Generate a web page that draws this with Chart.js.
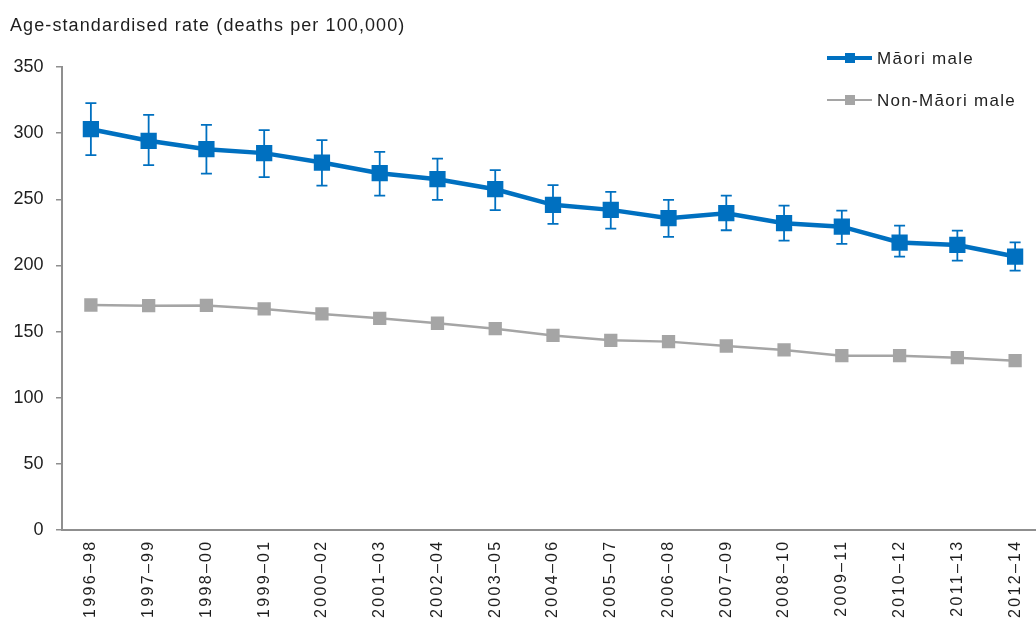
<!DOCTYPE html>
<html>
<head>
<meta charset="utf-8">
<script src="https://cdn.jsdelivr.net/npm/chart.js@4.4.1/dist/chart.umd.min.js"></script>
<style>
  html, body { margin: 0; padding: 0; background: #ffffff; overflow: hidden; }
  #wrap { width: 1036px; height: 621px; overflow: hidden; position: relative; }
  canvas { display: block; }
</style>
</head>
<body>
<div id="wrap"><canvas id="chart" width="1060" height="621"></canvas></div>
<script>
// Three-year periods
const periods = ['1996–98', '1997–99', '1998–00', '1999–01', '2000–02', '2001–03', '2002–04', '2003–05',
  '2004–06', '2005–07', '2006–08', '2007–09', '2008–10', '2009–11', '2010–12', '2011–13', '2012–14'];

// Age-standardised death rates per 100,000
const maoriMale = [303.0, 294.2, 287.9, 284.9, 277.8, 269.7, 265.2, 257.6, 245.8, 242.0, 235.7, 239.5, 231.9, 229.3, 217.3, 215.5, 206.7];
const maoriLower = [283.4, 275.8, 269.4, 266.7, 260.4, 252.8, 249.5, 241.8, 231.4, 227.8, 221.6, 226.6, 218.8, 216.3, 206.7, 203.6, 196.1];
const maoriUpper = [322.7, 313.8, 306.3, 302.3, 294.7, 285.9, 280.8, 272.0, 260.7, 255.6, 249.5, 252.8, 245.2, 241.5, 230.1, 226.3, 217.5];
const nonMaoriMale = [170.1, 169.6, 169.8, 167.1, 163.3, 160.0, 156.3, 152.2, 147.1, 143.4, 142.4, 139.1, 136.1, 131.8, 131.8, 130.3, 128.0];

// Y axis ticks
const yTicks = [0, 50, 100, 150, 200, 250, 300, 350];

const yAxisTitle = 'Age-standardised rate (deaths per 100,000)';
const seriesNames = ['Māori male', 'Non-Māori male'];

const BLUE = '#0070C0';
const GREY = '#A5A5A5';
const AXIS = '#8f8f8f';
const TEXT = '#1e1e1e';
const FONT = '"Liberation Sans", Arial, sans-serif';

// confidence interval whiskers for the Māori series
const errorBars = {
  id: 'errorBars',
  beforeDatasetsDraw(chart) {
    const ctx = chart.ctx;
    const x = chart.scales.x, y = chart.scales.y;
    ctx.save();
    ctx.strokeStyle = BLUE;
    ctx.lineWidth = 1.8;
    const cap = 5.5;
    maoriMale.forEach((v, i) => {
      const px = x.getPixelForValue(i);
      const lo = y.getPixelForValue(maoriLower[i]);
      const hi = y.getPixelForValue(maoriUpper[i]);
      ctx.beginPath();
      ctx.moveTo(px, lo); ctx.lineTo(px, hi);
      ctx.moveTo(px - cap, lo); ctx.lineTo(px + cap, lo);
      ctx.moveTo(px - cap, hi); ctx.lineTo(px + cap, hi);
      ctx.stroke();
    });
    ctx.restore();
  }
};

// axis title at top left and legend at top right
const annotations = {
  id: 'annotations',
  afterDraw(chart) {
    const ctx = chart.ctx;
    ctx.save();
    ctx.fillStyle = TEXT;
    ctx.textAlign = 'left';
    ctx.textBaseline = 'alphabetic';
    ctx.letterSpacing = '1.1px';
    ctx.font = '18px ' + FONT;
    ctx.fillText(yAxisTitle, 10, 31);

    const items = [
      { label: seriesNames[0], color: BLUE, width: 4, y: 58 },
      { label: seriesNames[1], color: GREY, width: 2.2, y: 100 }
    ];
    ctx.letterSpacing = '1.3px';
    ctx.font = '17px ' + FONT;
    items.forEach(it => {
      ctx.strokeStyle = it.color;
      ctx.lineWidth = it.width;
      ctx.beginPath();
      ctx.moveTo(827, it.y); ctx.lineTo(872, it.y);
      ctx.stroke();
      ctx.fillStyle = it.color;
      ctx.fillRect(845, it.y - 5, 10, 10);
      ctx.fillStyle = TEXT;
      ctx.fillText(it.label, 877, it.y + 6);
    });
    ctx.restore();
  }
};

new Chart(document.getElementById('chart'), {
  type: 'line',
  data: {
    labels: periods,
    datasets: [
      {
        label: seriesNames[0],
        data: maoriMale,
        borderColor: BLUE,
        backgroundColor: BLUE,
        borderWidth: 4.5,
        pointStyle: 'rect',
        pointRadius: 11.5,
        pointBorderWidth: 0,
        pointBackgroundColor: BLUE,
        tension: 0,
        order: 0
      },
      {
        label: seriesNames[1],
        data: nonMaoriMale,
        borderColor: GREY,
        backgroundColor: GREY,
        borderWidth: 2.5,
        pointStyle: 'rect',
        pointRadius: 9.4,
        pointBorderWidth: 0,
        pointBackgroundColor: GREY,
        tension: 0,
        order: 1
      }
    ]
  },
  options: {
    responsive: false,
    animation: false,
    devicePixelRatio: 1,
    layout: { padding: { top: 67, right: 16, bottom: 0, left: 0 } },
    plugins: {
      legend: { display: false },
      tooltip: { enabled: false },
      title: { display: false }
    },
    scales: {
      x: {
        type: 'category',
        offset: true,
        grid: { display: true, drawOnChartArea: false, drawTicks: false, color: 'rgba(0,0,0,0)' },
        border: { display: true, color: AXIS, width: 2 },
        ticks: {
          minRotation: 90,
          maxRotation: 90,
          autoSkip: false,
          padding: 9.5,
          color: TEXT,
          font: { family: FONT, size: 16 }
        },
        afterFit(scale) {
          scale.height = 91;
          // period labels are drawn with wide character spacing
          if (!scale._spacedLabels) {
            const draw = scale.drawLabels;
            scale.drawLabels = function (area) {
              const c = this.ctx;
              c.save();
              c.letterSpacing = '2.3px';
              draw.call(this, area);
              c.restore();
            };
            scale._spacedLabels = true;
          }
        }
      },
      y: {
        min: 0,
        max: 350,
        afterBuildTicks(scale) { scale.ticks = yTicks.map(v => ({ value: v })); },
        grid: { display: true, drawOnChartArea: false, drawTicks: true, tickLength: 6, color: AXIS, lineWidth: 1.5 },
        border: { display: true, color: AXIS, width: 2 },
        ticks: {
          padding: 12.5,
          color: TEXT,
          font: { family: FONT, size: 18 }
        },
        afterFit(scale) { scale.width = 62; }
      }
    }
  },
  plugins: [errorBars, annotations]
});
</script>
</body>
</html>
